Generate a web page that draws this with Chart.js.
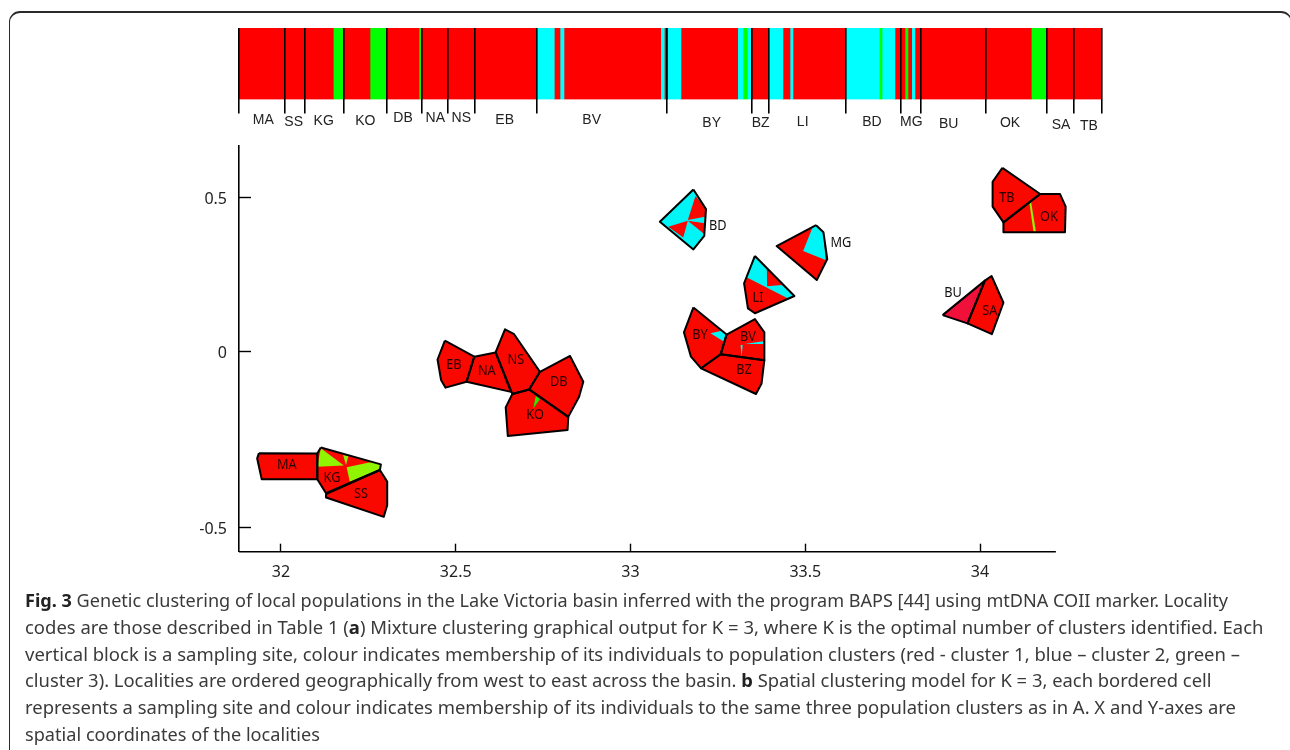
<!DOCTYPE html>
<html>
<head>
<meta charset="utf-8">
<style>
html,body{margin:0;padding:0;background:#fff;width:1290px;height:750px;overflow:hidden;}
#card{position:absolute;left:9px;top:11px;width:1283px;height:760px;border:1.5px solid #2a2a2a;border-top-width:2px;border-radius:11px;box-sizing:border-box;}
#plot{position:absolute;left:0;top:0;}
#strip{position:absolute;left:230px;top:20px;}
#caption{position:absolute;left:25px;top:587px;font-family:"Noto Sans",sans-serif;font-size:18.6px;line-height:26.8px;color:#3a3a3a;}
#caption div{white-space:nowrap;transform-origin:0 50%;width:max-content;}
#caption b{color:#222;}
</style>
<script src="https://cdn.jsdelivr.net/npm/chart.js@4/dist/chart.umd.js"></script>
</head>
<body>
<div id="card"></div>
<canvas id="plot" width="1290" height="750"></canvas>
<canvas id="strip" width="880" height="120"></canvas>
<div id="caption">
<div data-w="1203"><b>Fig. 3</b> Genetic clustering of local populations in the Lake Victoria basin inferred with the program BAPS [44] using mtDNA COII marker. Locality</div>
<div data-w="1238.5">codes are those described in Table 1 (<b>a</b>) Mixture clustering graphical output for K = 3, where K is the optimal number of clusters identified. Each</div>
<div data-w="1215">vertical block is a sampling site, colour indicates membership of its individuals to population clusters (red - cluster 1, blue – cluster 2, green –</div>
<div data-w="1186.5">cluster 3). Localities are ordered geographically from west to east across the basin. <b>b</b> Spatial clustering model for K = 3, each bordered cell</div>
<div data-w="1211">represents a sampling site and colour indicates membership of its individuals to the same three population clusters as in A. X and Y-axes are</div>
<div data-w="295">spatial coordinates of the localities</div>
</div>
<script>
// ---- Panel a: membership strip ----
const stripWidths = [94.8,10,26.7,16,33,2.3,115.4,17.6,5.7,4,96.7,3.6,3.4,13.3,56.7,5.3,4.3,4.4,17,14.3,7,3,52.7,33.6,2.7,13,10,3,3.7,3.3,116.3,15.4,54.8];
const stripClusters = [1,3,1,3,1,3,1,2,1,2,1,2,1,2,1,2,3,2,1,2,1,2,1,2,3,2,1,3,1,2,1,3,1];
const siteBoundaries = [0.5,46.2,66.2,105.2,148.2,183.2,209.5,236.5,298.2,428.2,513.2,530.2,607.2,662.2,682.2,747.2,808.2,835.5,862.8];
const siteNames = ["MA","SS","KG","KO","DB","NA","NS","EB","BV","BY","BZ","LI","BD","MG","BU","OK","SA","TB"];
const siteLabelAt = [24.8,55.2,85.2,126.8,164.5,196.8,222.8,266.2,353.2,473.2,522.2,564.2,633.5,672.8,710.2,771.5,822.5,850.5];
const siteLabelDrop = [21,23,21.5,21.5,19,19,19,21,20.5,23.5,23.5,22.5,22.5,23,25,24,25.5,27];

// ---- Panel b: cells (spatial coordinates of the localities) ----
const cellMA = [[31.937,-.288],[31.932,-.303],[31.945,-.362],[32.104,-.362],[32.104,-.289]];
const cellKG = [[32.114,-.272],[32.286,-.320],[32.283,-.336],[32.129,-.402],[32.104,-.362],[32.104,-.289]];
const cellSS = [[32.129,-.404],[32.283,-.336],[32.304,-.369],[32.304,-.436],[32.294,-.469],[32.129,-.414]];
const cellEB = [[32.469,.036],[32.553,-.014],[32.531,-.085],[32.471,-.102],[32.458,-.080],[32.448,-.022]];
const cellNA = [[32.553,-.014],[32.614,-.002],[32.658,-.114],[32.531,-.085]];
const cellNS = [[32.614,-.002],[32.641,.073],[32.667,.057],[32.741,-.057],[32.710,-.107],[32.662,-.120]];
const cellDB = [[32.741,-.057],[32.827,-.012],[32.865,-.085],[32.853,-.128],[32.822,-.185],[32.710,-.107]];
const cellKO = [[32.662,-.120],[32.710,-.107],[32.822,-.185],[32.820,-.222],[32.649,-.239],[32.643,-.158]];
const cellBD = [[33.180,.527],[33.216,.463],[33.211,.376],[33.180,.332],[33.084,.422]];
const cellMG = [[33.531,.411],[33.552,.388],[33.563,.301],[33.533,.233],[33.418,.343]];
const cellLI = [[33.356,.311],[33.469,.181],[33.356,.125],[33.336,.141],[33.325,.222],[33.332,.242]];
const cellBY = [[33.180,.144],[33.275,.056],[33.258,-.007],[33.202,-.047],[33.173,-.014],[33.153,.063]];
const cellBV = [[33.275,.056],[33.356,.106],[33.383,.063],[33.383,-.024],[33.258,-.007]];
const cellBZ = [[33.258,-.007],[33.383,-.024],[33.375,-.090],[33.359,-.120],[33.202,-.047]];
const cellTB = [[34.064,.597],[34.172,.512],[34.067,.420],[34.036,.471],[34.036,.552]];
const cellOK = [[34.172,.512],[34.229,.512],[34.245,.471],[34.243,.388],[34.067,.388],[34.067,.420]];
const cellBU = [[33.893,.119],[34.014,.231],[33.964,.092]];
const cellSA = [[34.014,.231],[34.033,.246],[34.067,.159],[34.034,.057],[33.964,.092]];

const kgPatchA = [[32.114,-.274],[32.104,-.327],[32.180,-.323]];
const kgPatchB = [[32.178,-.293],[32.193,-.296],[32.186,-.322]];
const kgPatchC = [[32.188,-.328],[32.259,-.313],[32.286,-.319],[32.283,-.334],[32.197,-.369]];
const koPatch = [[32.729,-.126],[32.741,-.134],[32.722,-.161]];
const bdWedgeA = [[33.164,.428],[33.186,.506],[33.216,.463],[33.213,.438]];
const bdWedgeB = [[33.164,.425],[33.213,.417],[33.211,.382]];
const bdWedgeC = [[33.164,.425],[33.108,.406],[33.151,.371]];
const mgPatch = [[33.520,.401],[33.531,.411],[33.552,.388],[33.558,.298],[33.494,.327]];
const liPatch = [[33.356,.311],[33.390,.271],[33.391,.213],[33.433,.217],[33.469,.181],[33.451,.173],[33.332,.242]];
const byPatch = [[33.229,.060],[33.261,.068],[33.277,.056],[33.270,.031]];
const bvPatchA = [[33.327,.025],[33.380,.034],[33.380,.025]];
const bvPatchB = [[33.315,.022],[33.321,.022],[33.318,-.014]];
const okPatch = [[34.141,.485],[34.146,.487],[34.160,.390],[34.153,.390]];

const cellNamesB = ["MA","KG","SS","EB","NA","NS","DB","KO","BY","BV","BZ","LI","BD","MG","BU","SA","TB","OK"];
const cellLabelX = [32.017,32.146,32.229,32.495,32.589,32.672,32.795,32.727,33.199,33.336,33.325,33.365,33.250,33.602,33.923,34.028,34.077,34.197];
const cellLabelY = [-.322,-.359,-.404,-.038,-.055,-.024,-.086,-.180,.054,.048,-.052,.174,.408,.353,.191,.132,.499,.437];
const xTickValues = [32,32.5,33,33.5,34];
const yTickValues = [-0.5,0,0.5];
const xAxisStart = 31.88, xAxisEnd = 34.217, yAxisBottom = -0.568, yAxisTop = 0.668;

// ---- Colours ----
const stripColor = {1:"#ff0000",2:"#00ffff",3:"#00ff00"};
const RED="#f90800", CYAN="#00f6f6", LIME="#8ff500", GREEN="#22ee00", CRIMSON="#f0103a";

// The printed y axis is unevenly spaced: the upper half is 0.875 of the lower half.
class UnevenLinearScale extends Chart.LinearScale {
  warp(v){ return v>=0 ? v*0.875 : v; }
  getPixelForValue(v){
    if(v===null||v===undefined) return NaN;
    const a=this.warp(this.min), b=this.warp(this.max);
    return this.getPixelForDecimal((this.warp(v)-a)/(b-a));
  }
}
UnevenLinearScale.id="unevenLinear";
UnevenLinearScale.defaults=Chart.LinearScale.defaults;
Chart.register(UnevenLinearScale);

const pts = a => a.map(p=>({x:p[0],y:p[1]}));
const cells = [
 [cellMA,RED],[cellKG,RED],[cellSS,RED],[cellEB,RED],[cellNA,RED],[cellNS,RED],[cellDB,RED],[cellKO,RED],
 [cellBD,CYAN],[cellMG,RED],[cellLI,RED],[cellBY,RED],[cellBV,RED],[cellBZ,RED],[cellTB,RED],[cellOK,RED],[cellBU,CRIMSON],[cellSA,RED]
];
const patches = [
 [kgPatchA,LIME],[kgPatchB,LIME],[kgPatchC,LIME],[koPatch,GREEN],[bdWedgeA,RED],[bdWedgeB,RED],[bdWedgeC,RED],
 [mgPatch,CYAN],[liPatch,CYAN],[byPatch,CYAN],[bvPatchA,CYAN],[bvPatchB,CYAN],[okPatch,LIME]
];
const base={type:"scatter",showLine:true,pointRadius:0,pointHoverRadius:0,tension:0,clip:false};
const plotSets=[];
cells.forEach(c=>plotSets.push({...base,data:pts(c[0]),backgroundColor:c[1],fill:"shape",borderWidth:0,borderColor:c[1]}));
patches.forEach(c=>plotSets.push({...base,data:pts(c[0]),backgroundColor:c[1],fill:"shape",borderWidth:0,borderColor:c[1]}));
cells.forEach(c=>plotSets.push({...base,data:pts(c[0].concat([c[0][0]])),fill:false,borderColor:"#000",borderWidth:2,borderJoinStyle:"round"}));
// the bottom axis line stops before the OK cell's right edge
plotSets.push({...base,data:pts([[xAxisStart,yAxisBottom],[xAxisEnd,yAxisBottom]]),fill:false,borderColor:"#000",borderWidth:1.6});
plotSets.forEach((d,i)=>{d.order=-i;});

const cellLabelPlugin={id:"cellLabels",afterDatasetsDraw(chart){
  const {ctx,scales:{x,y}}=chart;
  ctx.save();
  ctx.font='14.5px "Noto Sans"';ctx.textAlign="center";ctx.textBaseline="middle";
  cellNamesB.forEach((n,i)=>{
    ctx.save();
    ctx.fillStyle=["BD","MG","BU"].includes(n)?"#111":"#2a0000";
    ctx.translate(x.getPixelForValue(cellLabelX[i]),y.getPixelForValue(cellLabelY[i]));
    ctx.scale(0.88,1);
    ctx.fillText(n,0,0);
    ctx.restore();
  });
  ctx.restore();
}};

new Chart(document.getElementById("plot"),{
  type:"scatter",
  data:{datasets:plotSets},
  plugins:[cellLabelPlugin],
  options:{
    responsive:false,animation:false,devicePixelRatio:1,events:[],
    layout:{padding:{left:200,right:219.1,top:146,bottom:168.3}},
    plugins:{legend:{display:false},tooltip:{enabled:false},title:{display:false}},
    scales:{
      x:{type:"linear",min:xAxisStart,max:34.26,
        afterBuildTicks(s){s.ticks=xTickValues.map(value=>({value}));},
        afterFit(s){s.height=30;},
        border:{display:false},
        grid:{drawOnChartArea:false,tickLength:-8,tickColor:"#000",tickWidth:1.4},
        ticks:{padding:19,color:"#222",font:{family:"Noto Sans",size:16},maxRotation:0,autoSkip:false,callback:v=>String(v)}},
      y:{type:"unevenLinear",min:yAxisBottom,max:yAxisTop,
        afterBuildTicks(s){s.ticks=yTickValues.map(value=>({value}));},
        afterFit(s){s.width=39;},
        border:{color:"#000",width:1.6},
        grid:{drawOnChartArea:false,tickLength:-12,tickColor:"#000",tickWidth:1.4},
        ticks:{padding:24,labelOffset:2,color:"#222",font:{family:"Noto Sans",size:16},autoSkip:false,callback:v=>String(v)}}
    }
  }
});

const stripLabelPlugin={id:"stripLabels",afterDraw(chart){
  const {ctx,scales:{x},chartArea}=chart;
  ctx.save();
  ctx.font='14px "Liberation Sans"';ctx.fillStyle="#222";ctx.textAlign="center";ctx.textBaseline="middle";
  siteNames.forEach((n,i)=>ctx.fillText(n,x.getPixelForValue(siteLabelAt[i]),chartArea.bottom+siteLabelDrop[i]));
  ctx.restore();
}};

new Chart(document.getElementById("strip"),{
  type:"bar",
  data:{labels:["sites"],datasets:stripWidths.map((w,i)=>({data:[w],backgroundColor:stripColor[stripClusters[i]],barPercentage:1,categoryPercentage:1,borderWidth:0,stack:"s"}))},
  plugins:[stripLabelPlugin],
  options:{
    indexAxis:"y",responsive:false,animation:false,devicePixelRatio:1,events:[],
    layout:{padding:{left:8.5,right:8.5,top:8,bottom:26.5}},
    plugins:{legend:{display:false},tooltip:{enabled:false}},
    scales:{
      x:{type:"linear",stacked:true,min:0,max:863,
        afterBuildTicks(s){s.ticks=siteBoundaries.map(value=>({value}));},
        afterFit(s){s.height=14;},
        border:{display:false},
        grid:{z:1,color:"#000",lineWidth:1.6,tickLength:14,tickColor:"#000"},
        ticks:{display:false}},
      y:{stacked:true,display:false}
    }
  }
});

// fit each caption line to its printed width
document.querySelectorAll("#caption div").forEach(d=>{
  const w=d.getBoundingClientRect().width;
  d.style.transform="scaleX("+(parseFloat(d.dataset.w)/w)+")";
});
</script>
</body>
</html>
